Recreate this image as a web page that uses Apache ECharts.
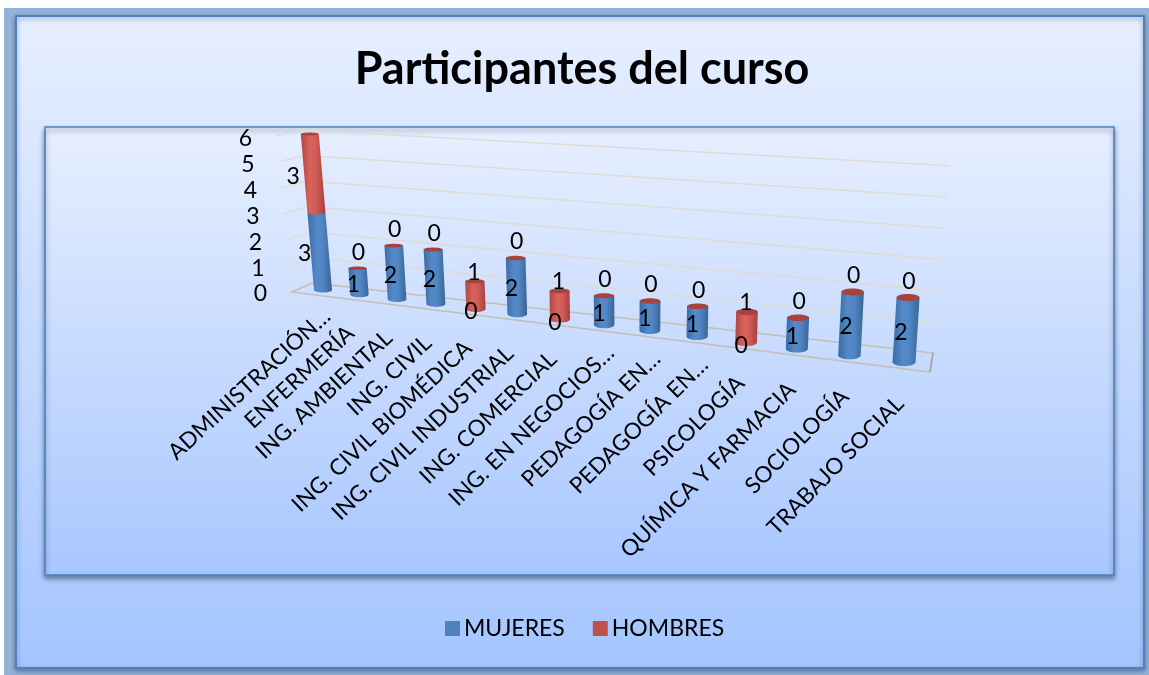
<!DOCTYPE html>
<html><head><meta charset="utf-8">
<style>html,body{margin:0;padding:0;background:#fff}#c{width:1149px;height:675px}</style>
<script src="https://cdn.jsdelivr.net/npm/echarts@6/dist/echarts.min.js"></script></head>
<body><div id="c"></div>
<script>
const categories = ["ADMINISTRACIÓN…","ENFERMERÍA","ING. AMBIENTAL","ING. CIVIL","ING. CIVIL BIOMÉDICA","ING. CIVIL INDUSTRIAL","ING. COMERCIAL","ING. EN NEGOCIOS…","PEDAGOGÍA EN…","PEDAGOGÍA EN…","PSICOLOGÍA","QUÍMICA Y FARMACIA","SOCIOLOGÍA","TRABAJO SOCIAL"];
const mujeres = [3,1,2,2,0,2,0,1,1,1,0,1,2,2];
const hombres = [3,0,0,0,1,0,1,0,0,0,1,0,0,0];
const yTicks = [0,1,2,3,4,5,6];

const FONT = 'Lato, Carlito, "Open Sans", sans-serif';
const YMAX = 6, N = categories.length;
const chart = echarts.init(document.getElementById('c'), null, {renderer:'canvas'});
const G = echarts.graphic;

// Perspective view of the plain cartesian grid
function project(p, cs){
  const band = cs.width/N;
  const u = (p[0]-cs.x-band/2)/(cs.width-band);
  const v = (cs.y+cs.height-p[1])/(cs.height/YMAX);
  const s = u/(1+0.244*(1-u));
  return {x:323+581*s+(-2.2+4.2*s)*v, y:290+72*s-(26+6.2*s)*v, s:s};
}
function grad(stops){
  return new G.LinearGradient(0,0,1,0,stops.map((c,i)=>({offset:[0,.38,.62,1][i],color:c})));
}
const BLUE = grad(['#3a6ba3','#5589c8','#5186c4','#386596']);
const RED = grad(['#b04744','#d8625c','#d25c57','#a5403d']);

function arc(cx,cy,rx,ry,from,to){
  const out=[];
  for(let k=0;k<=14;k++){const t=from+(to-from)*k/14;out.push([cx+rx*Math.cos(t),cy+ry*Math.sin(t)]);}
  return out;
}
function body(a,b,fill){
  const rx=(18+5*a.s)/2, ry=2.6+1.6*a.s;
  const pts=[[b.x-rx,b.y]].concat([[b.x+rx,b.y]]).concat(arc(a.x,a.y,rx,ry,0,Math.PI));
  return {type:'polygon',shape:{points:pts},style:{fill:fill},silent:true};
}
function cap(b){
  const rx=(18+5*b.s)/2, ry=1.6+2*b.s;
  return {type:'ellipse',shape:{cx:b.x,cy:b.y,rx:rx,ry:ry},style:{fill:'#a8423f'},silent:true};
}

const wallSeries = {
  type:'custom', name:'pared', coordinateSystem:'cartesian2d', silent:true, z:1, legendHoverLink:false,
  data:yTicks.map(t=>[0,t]),
  renderItem(params,api){
    const cs=params.coordSys;
    const v=(cs.y+cs.height-api.coord([0,api.value(1)])[1])/(cs.height/YMAX);
    const pts=[[292-2.67*v,292-26*v],[312-1.67*v,283-25.5*v],[933+2.83*v,353-31.2*v]];
    const kids=[{type:'polyline',shape:{points:pts},style:{fill:null,stroke:'#dedcd4',lineWidth:1.6}}];
    if(v<0.01){
      kids.push({type:'polygon',shape:{points:[[292,292],[312,283],[933,353],[930,372]]},
        style:{fill:null,stroke:'#c2c1b8',lineWidth:1.6}});
      kids.push({type:'line',shape:{x1:933,y1:353,x2:930,y2:372},style:{stroke:'#a3a39d',lineWidth:1.6}});
    }
    return {type:'group',children:kids};
  }
};

const mujSeries = {
  type:'custom', name:'MUJERES', coordinateSystem:'cartesian2d', z:3, silent:true,
  itemStyle:{color:'#4f81bd'},
  data:mujeres.map((m,i)=>[i,m]),
  renderItem(params,api){
    const i=api.value(0), m=api.value(1), cs=params.coordSys;
    if(!m) return {type:'group',children:[]};
    return body(project(api.coord([i,0]),cs),project(api.coord([i,m]),cs),BLUE);
  }
};
const homSeries = {
  type:'custom', name:'HOMBRES', coordinateSystem:'cartesian2d', z:4, silent:true,
  itemStyle:{color:'#c0504d'},
  data:hombres.map((h,i)=>[i,mujeres[i],mujeres[i]+h]),
  renderItem(params,api){
    const i=api.value(0), lo=api.value(1), hi=api.value(2), cs=params.coordSys;
    const a=project(api.coord([i,lo]),cs), b=project(api.coord([i,hi]),cs);
    const kids=[];
    if(hi>lo) kids.push(body(a,b,RED));
    kids.push(cap(b));
    return {type:'group',children:kids};
  }
};
function txt(s,x,y,size,extra){
  return Object.assign({type:'text',x:x,y:y,silent:true,
    style:{text:String(s),fill:'#000',font:size+'px '+FONT,align:'center',verticalAlign:'middle'}},extra||{});
}
const labelSeries = {
  type:'custom', name:'etiquetas', coordinateSystem:'cartesian2d', z:6, silent:true,
  data:mujeres.map((m,i)=>[i,m,hombres[i]]),
  renderItem(params,api){
    const i=api.value(0), m=api.value(1), h=api.value(2), cs=params.coordSys;
    const base=project(api.coord([i,0]),cs), mid=project(api.coord([i,m/2]),cs);
    const top=project(api.coord([i,m+h]),cs), rmid=project(api.coord([i,m+h/2]),cs);
    const kids=[];
    // MUJERES
    if(m===0) kids.push(txt(m,base.x-5,base.y+3,23));
    else kids.push(txt(m,mid.x-(m>=3?15:5),mid.y+3,23));
    // HOMBRES
    if(h>=3) kids.push(txt(h,rmid.x-20,rmid.y+4,23));
    else kids.push(txt(h,top.x+(h?-1:1),top.y-(h?9:16),23));
    // category label: cut labels sit further along the slope
    const c=categories[i], cut=c.endsWith('…');
    const lx=base.x-9+5*base.s+(cut?13:0), ly=base.y+35+3*base.s-(cut?12:0);
    kids.push({type:'text',x:lx,y:ly,rotation:(42.6+3*base.s)*Math.PI/180,silent:true,
      style:{text:c,fill:'#000',font:'22.5px '+FONT,align:'right',verticalAlign:'middle'}});
    return {type:'group',children:kids};
  }
};
const vGrad=(a,b)=>new G.LinearGradient(0,0,0,1,[{offset:0,color:a},{offset:1,color:b}]);

chart.setOption({
  animation:false,
  backgroundColor:'#ffffff',
  title:{text:'Participantes del curso',left:577,top:36,textAlign:'center',
    textStyle:{fontFamily:FONT,fontWeight:'bold',fontSize:45,color:'#000',lineHeight:56}},
  legend:{left:440,top:612,itemWidth:15,itemHeight:15,itemGap:28,icon:'rect',
    data:['MUJERES','HOMBRES'],selectedMode:false,
    textStyle:{fontFamily:FONT,fontSize:23,color:'#000',padding:[0,0,0,-1]}},
  grid:{left:270,top:137,width:660,height:155},
  xAxis:{type:'category',data:categories,show:false},
  yAxis:{type:'value',min:0,max:YMAX,interval:1,
    axisLine:{show:false},axisTick:{show:false},splitLine:{show:false},
    axisLabel:{margin:3,fontFamily:FONT,fontSize:23,color:'#000',
      formatter:v=>'{p'+v+'|'+yTicks[v]+'}',
      rich:Object.fromEntries(yTicks.map(t=>['p'+t,{padding:[4,2.5*t,0,0],fontFamily:FONT,fontSize:23,color:'#000'}]))}},
  graphic:{elements:[
    {type:'rect',z:-5,silent:true,shape:{x:4,y:8,width:1145,height:667},style:{fill:'#94b3d9'}},
    {type:'rect',z:-4,silent:true,shape:{x:16,y:16,width:1128,height:652},
      style:{fill:vGrad('#e7efff','#a4c5fe'),stroke:'#4f81bd',lineWidth:2,shadowColor:'rgba(40,60,90,.5)',shadowBlur:5,shadowOffsetY:2}},
    {type:'rect',z:-3,silent:true,shape:{x:45,y:127,width:1069,height:448},
      style:{fill:vGrad('#e7efff','#a8c7fe'),stroke:'#4f81bd',lineWidth:1.6,shadowColor:'rgba(30,50,80,.55)',shadowBlur:5,shadowOffsetY:3}}
  ]},
  series:[wallSeries,mujSeries,homSeries,labelSeries]
});
</script></body></html>
